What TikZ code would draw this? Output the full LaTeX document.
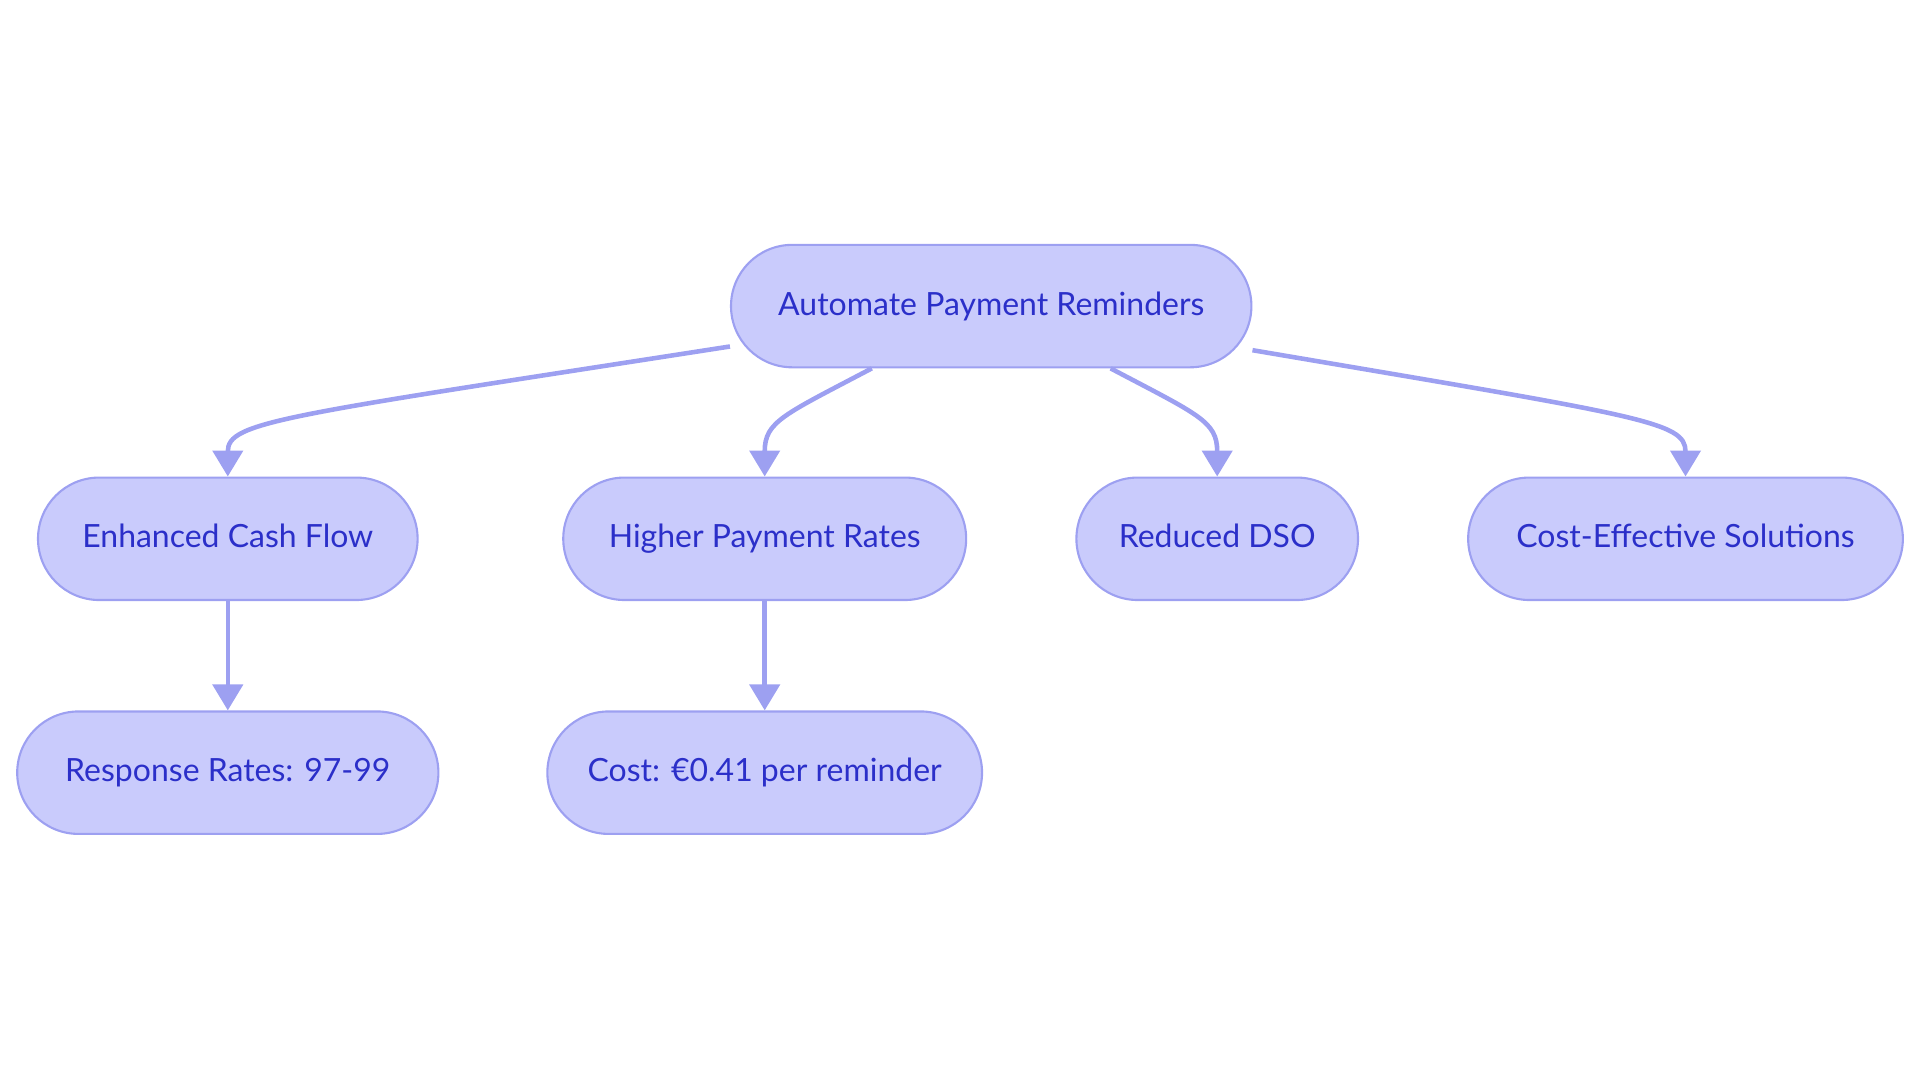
\documentclass[tikz,border=0pt]{standalone}
\usepackage{fontspec}
\setmainfont{Lato}
\usetikzlibrary{arrows.meta}
\definecolor{pillfill}{HTML}{C9CBFC}
\definecolor{pillline}{HTML}{9DA0F1}
\definecolor{pilltext}{HTML}{2B2FC9}
\tikzset{
  pill/.style={draw=pillline, fill=pillfill, text=pilltext, line width=0.6pt,
    rounded corners=0.612cm, minimum height=1.2245cm, inner xsep=0.3cm,
    text height=0.72em, text depth=0.2em,
    font=\fontsize{9.1}{11}\selectfont},
  link/.style={draw=pillline, line width=1.3pt, -{Triangle[length=0.26cm,width=0.3cm]}}
}
\begin{document}
\begin{tikzpicture}
    \useasboundingbox (0,0) rectangle (19.2,10.83);

    \node[pill, minimum width=5.204cm] (auto) at (9.912,7.769) {Automate Payment Reminders};
    \node[pill, minimum width=3.796cm] (cash) at (2.278,5.442) {Enhanced Cash Flow};
    \node[pill, minimum width=4.029cm] (rates) at (7.647,5.442) {Higher Payment Rates};
    \node[pill, minimum width=2.816cm] (dso) at (12.172,5.442) {Reduced DSO};
    \node[pill, minimum width=4.347cm] (saving) at (16.855,5.442) {Cost-Effective Solutions};
    \node[pill, minimum width=4.212cm] (response) at (2.278,3.103) {Response Rates: 97-99};
    \node[pill, minimum width=4.347cm] (cost) at (7.647,3.103) {Cost: €0.41 per reminder};

    \draw[link] ([yshift=-0.404cm]auto.west) .. controls +(-4.494,-0.698) and +(0,0.551) .. (cash.north);
    \draw[link] ([xshift=-1.194cm]auto.south) .. controls +(-0.882,-0.465) and +(0,0.551) .. (rates.north);
    \draw[link] ([xshift=1.194cm]auto.south) .. controls +(0.882,-0.465) and +(0,0.551) .. (dso.north);
    \draw[link] ([yshift=-0.441cm]auto.east) .. controls +(3.894,-0.661) and +(0,0.551) .. (saving.north);
    \draw[link] (cash.south) -- (response.north);
    \draw[link] (rates.south) -- (cost.north);
\end{tikzpicture}
\end{document}
